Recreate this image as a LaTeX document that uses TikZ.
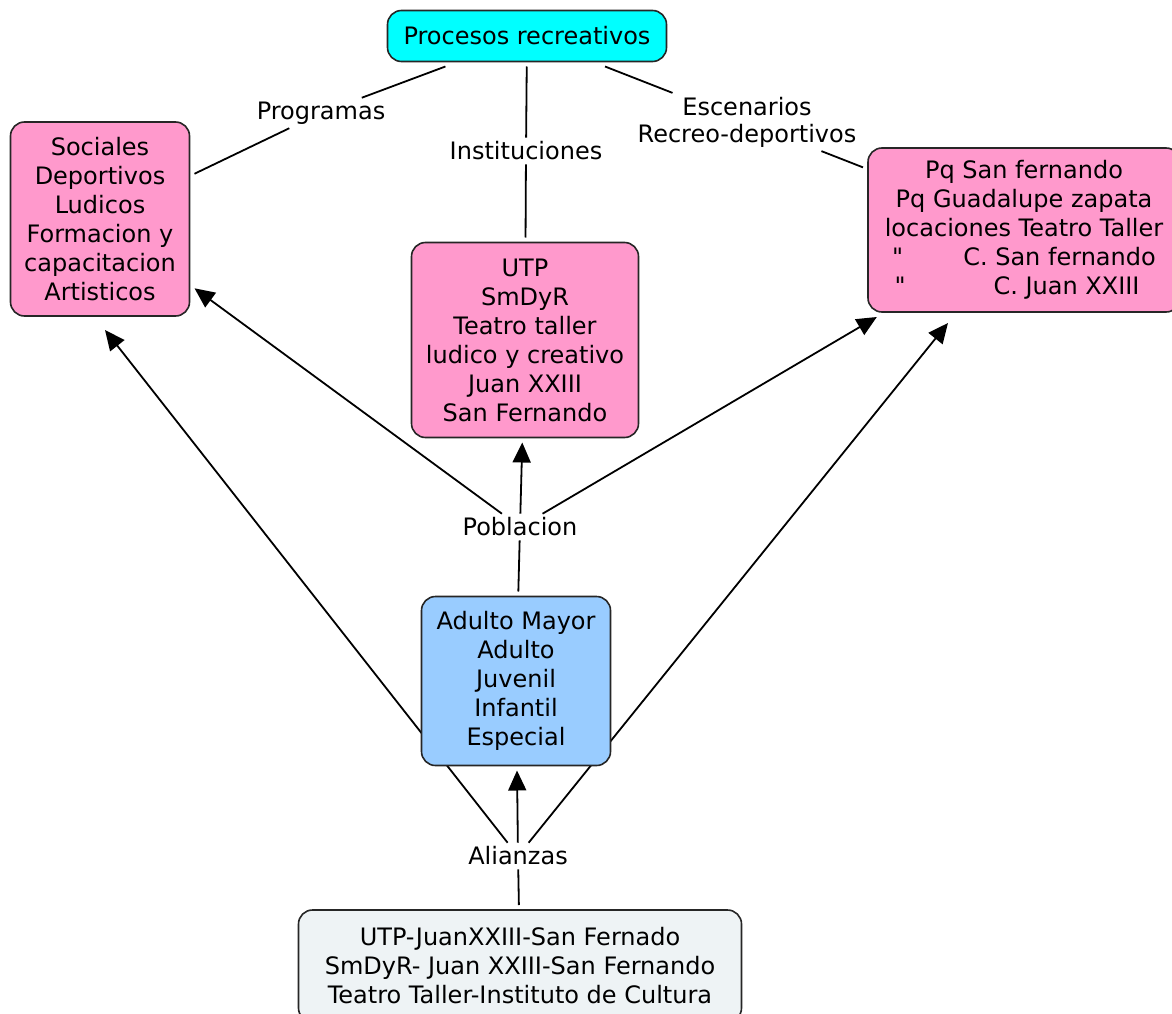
\documentclass[tikz,border=0pt]{standalone}
\usepackage{fontspec}
\setmainfont{DejaVu Sans}
\usetikzlibrary{arrows.meta,backgrounds}
\definecolor{cmcyan}{RGB}{0,255,255}
\definecolor{cmpink}{RGB}{255,153,204}
\definecolor{cmblue}{RGB}{153,204,255}
\definecolor{cmgrey}{RGB}{238,243,245}
\newcommand\dquote{\XeTeXglyph\XeTeXcharglyph"22\relax}
\begin{document}
\begin{tikzpicture}[x=1pt,y=-1pt,
  concept/.style={draw=black!85,line width=1.6pt,rounded corners=14pt,align=center,inner sep=0pt,outer sep=5pt,font=\fontsize{24}{29}\selectfont},
  phrase/.style={align=center,inner sep=2pt,outer sep=2pt,font=\fontsize{24}{27}\selectfont},
  link/.style={line width=1.8pt},
  arr/.style={line width=1.8pt,-{Triangle[length=20pt,width=18pt]}}]
\useasboundingbox (0,0) rectangle (1172,1014);
\node[concept,fill=cmcyan,minimum width=279pt,minimum height=51pt] (procesos) at (527,36) {Procesos recreativos};
\node[concept,fill=cmpink,minimum width=179pt,minimum height=194pt] (programasbox) at (100,219) {Sociales\\Deportivos\\Ludicos\\Formacion y\\capacitacion\\Artisticos};
\node[concept,fill=cmpink,minimum width=227pt,minimum height=195pt] (institbox) at (525,340) {UTP\\SmDyR\\Teatro taller\\ludico y creativo\\Juan XXIII\\San Fernando};
\node[concept,fill=cmpink,minimum width=312pt,minimum height=164pt] (escenbox) at (1024,230) {Pq San fernando\\Pq Guadalupe zapata\\locaciones Teatro Taller\\\dquote\hspace{60pt}C. San fernando\\\dquote\hspace{88pt}C. Juan XXIII\kern14pt};
\node[concept,fill=cmblue,minimum width=189pt,minimum height=169pt] (poblbox) at (516,681) {Adulto Mayor\\Adulto\\Juvenil\\Infantil\\Especial};
\node[concept,fill=cmgrey,minimum width=443pt,minimum height=112pt] (alianzbox) at (520,966) {UTP-JuanXXIII-San Fernado\\SmDyR- Juan XXIII-San Fernando\\Teatro Taller-Instituto de Cultura};
\node[phrase] (programas) at (321,113) {Programas};
\node[phrase] (instituciones) at (526,151) {Instituciones};
\node[phrase] (escenarios) at (747,122) {Escenarios\\Recreo-deportivos};
\node[phrase] (poblacion) at (520,527) {Poblacion};
\node[phrase] (alianzas) at (518,856) {Alianzas};
\begin{scope}[on background layer]
\draw[link] (procesos) -- (programas);
\draw[link] (programas) -- (programasbox);
\draw[link] (procesos) -- (instituciones);
\draw[link] (instituciones) -- (institbox);
\draw[link] (procesos) -- (escenarios);
\draw[link] (escenarios) -- (escenbox);
\draw[link] (poblbox) -- (poblacion);
\draw[arr] (poblacion) -- (programasbox);
\draw[arr] (poblacion) -- (institbox);
\draw[arr] (poblacion) -- (escenbox);
\draw[link] (alianzbox) -- (alianzas);
\draw[arr] (alianzas) -- (poblbox);
\draw[arr] (alianzas) -- ([xshift=5pt,yshift=-9pt]programasbox.south);
\draw[arr] (alianzas) -- ([xshift=85pt,yshift=-6pt]escenbox.south west);
\end{scope}
\end{tikzpicture}
\end{document}
